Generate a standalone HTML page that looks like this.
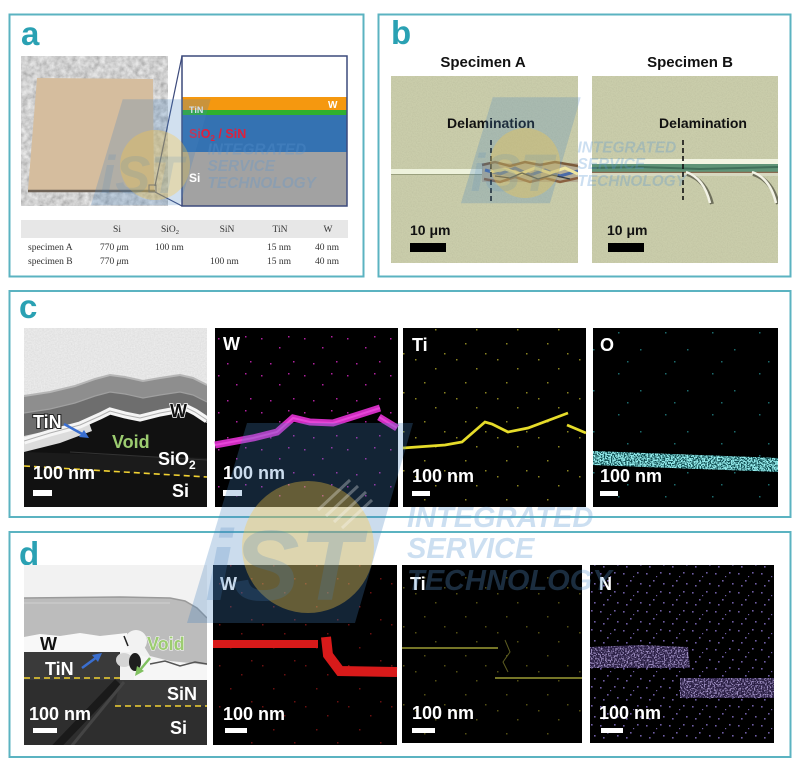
<!DOCTYPE html>
<html><head><meta charset="utf-8">
<style>
html,body{margin:0;padding:0;background:#fff;}
svg{display:block;}
text{font-family:"Liberation Sans",Arial,sans-serif;}
.lbl{font-weight:bold;font-size:33px;fill:#2aa1b3;}
.t{font-weight:bold;fill:#fff;font-size:18px;}
.ser{font-family:"Liberation Serif",serif;font-size:9.5px;fill:#333;}
</style></head><body>
<svg width="800" height="770" viewBox="0 0 800 770" xmlns="http://www.w3.org/2000/svg">
<defs>
  <filter id="fPhoto" x="0" y="0" width="100%" height="100%">
    <feTurbulence type="fractalNoise" baseFrequency="0.18" numOctaves="3" seed="4"/>
    <feColorMatrix type="matrix" values="0.6 0 0 0 0.33  0.6 0 0 0 0.33  0.6 0 0 0 0.33  0 0 0 0 1"/>
  </filter>
  <filter id="fTEM" x="0" y="0" width="100%" height="100%">
    <feTurbulence type="fractalNoise" baseFrequency="0.7" numOctaves="2" seed="11"/>
    <feColorMatrix type="matrix" values="0.18 0 0 0 0.70  0.18 0 0 0 0.70  0.18 0 0 0 0.70  0 0 0 0 1"/>
  </filter>
  <filter id="fGrain" x="0" y="0" width="100%" height="100%">
    <feTurbulence type="fractalNoise" baseFrequency="0.8" numOctaves="2" seed="21"/>
    <feColorMatrix type="matrix" values="0 0 0 0 0  0 0 0 0 0  0 0 0 0 0  1.2 0 0 0 -0.45"/>
  </filter>
  <filter id="fDotPD" x="0" y="0" width="100%" height="100%">
    <feTurbulence type="fractalNoise" baseFrequency="0.7" numOctaves="1" seed="19"/>
    <feColorMatrix type="matrix" values="0 0 0 0 0.62  0 0 0 0 0.5  0 0 0 0 0.92  8 0 0 0 -3.9"/>
  </filter>
  <filter id="fDotCD" x="0" y="0" width="100%" height="100%">
    <feTurbulence type="fractalNoise" baseFrequency="0.7" numOctaves="1" seed="29"/>
    <feColorMatrix type="matrix" values="0 0 0 0 0.3  0 0 0 0 0.85  0 0 0 0 0.85  8 0 0 0 -3.4"/>
  </filter>
  <pattern id="pM" width="43" height="37" patternUnits="userSpaceOnUse">
    <g fill="#b0209e"><rect x="3" y="5" width="1.5" height="1.5"/><rect x="21" y="14" width="1.5" height="1.5"/><rect x="35" y="28" width="1.5" height="1.5"/><rect x="12" y="30" width="1.5" height="1.5"/><rect x="30" y="3" width="1.5" height="1.5"/></g>
  </pattern>
  <pattern id="pY" width="41" height="39" patternUnits="userSpaceOnUse">
    <g fill="#8a8420"><rect x="5" y="8" width="1.5" height="1.5"/><rect x="25" y="17" width="1.5" height="1.5"/><rect x="14" y="31" width="1.5" height="1.5"/><rect x="34" y="2" width="1.5" height="1.5"/></g>
  </pattern>
  <pattern id="pC" width="47" height="41" patternUnits="userSpaceOnUse">
    <g fill="#1c6a6c"><rect x="7" y="4" width="1.5" height="1.5"/><rect x="29" y="21" width="1.5" height="1.5"/><rect x="16" y="33" width="1.5" height="1.5"/></g>
  </pattern>
  <pattern id="pR" width="43" height="41" patternUnits="userSpaceOnUse">
    <g fill="#6a1010"><rect x="4" y="9" width="1.5" height="1.5"/><rect x="26" y="18" width="1.5" height="1.5"/><rect x="15" y="32" width="1.5" height="1.5"/><rect x="36" y="4" width="1.5" height="1.5"/></g>
  </pattern>
  <pattern id="pP" width="23" height="19" patternUnits="userSpaceOnUse">
    <g fill="#6e5ca4"><rect x="2" y="3" width="1.6" height="1.6"/><rect x="9" y="10" width="1.6" height="1.6"/><rect x="16" y="2" width="1.6" height="1.6"/><rect x="19" y="13" width="1.6" height="1.6"/><rect x="5" y="15" width="1.6" height="1.6"/><rect x="12" y="6" width="1.2" height="1.2"/></g>
  </pattern>
  <clipPath id="cTa"><rect x="24" y="328" width="183" height="179"/></clipPath>
  <clipPath id="cTd"><rect x="24" y="565" width="183" height="180"/></clipPath>
  <clipPath id="cBA"><rect x="391" y="76" width="187" height="187"/></clipPath>
  <clipPath id="cBB"><rect x="592" y="76" width="186" height="187"/></clipPath>
  <clipPath id="cO"><polygon points="593,451 778,458 778,472 593,465"/></clipPath>
  <clipPath id="cN"><polygon points="590,647 640,645 688,647 690,668 590,668"/><polygon points="680,678 774,678 774,698 680,698"/></clipPath>
</defs>

<rect width="800" height="770" fill="#fff"/>

<!-- Panel frames -->
<rect x="9.5" y="14.5" width="354" height="262" fill="none" stroke="#5bb3c1" stroke-width="2"/>
<rect x="378.5" y="14.5" width="412" height="262" fill="none" stroke="#5bb3c1" stroke-width="2"/>
<rect x="9.5" y="291" width="781" height="226" fill="none" stroke="#5bb3c1" stroke-width="2"/>
<rect x="9.5" y="532" width="781" height="225" fill="none" stroke="#5bb3c1" stroke-width="2"/>

<text x="21" y="45" class="lbl">a</text>
<text x="391" y="44" class="lbl">b</text>
<text x="19" y="318" class="lbl">c</text>
<text x="19" y="565" class="lbl">d</text>

<!-- ===== Panel a ===== -->
<rect x="21" y="56" width="147" height="150" filter="url(#fPhoto)"/>
<polygon points="37,78 153,79 154,190 28,190" fill="#d5bd9e"/>
<line x1="28" y1="191" x2="155" y2="191" stroke="#6e6256" stroke-width="2.5"/>
<rect x="149" y="185" width="7" height="7" fill="none" stroke="#3c4a7c" stroke-width="1"/>
<line x1="155" y1="186" x2="182" y2="56" stroke="#3c4a7c" stroke-width="1.2"/>
<line x1="155" y1="192" x2="182" y2="206" stroke="#3c4a7c" stroke-width="1.2"/>
<rect x="182" y="56" width="165" height="150" fill="#fff"/>
<rect x="182" y="97" width="165" height="14" fill="#f5980f"/>
<rect x="182" y="110" width="165" height="5" fill="#2fb02f"/>
<rect x="182" y="115" width="165" height="37" fill="#3472b2"/>
<rect x="182" y="152" width="165" height="54" fill="#a2a2a2"/>
<rect x="182" y="56" width="165" height="150" fill="none" stroke="#3c4a7c" stroke-width="1.5"/>
<text x="189" y="113" font-size="9" font-weight="bold" fill="#fff">TiN</text>
<text x="328" y="108" font-size="10" font-weight="bold" fill="#fff">W</text>
<text x="189" y="138" font-size="12.5" font-weight="bold" fill="#e0203c">SiO<tspan dy="3" font-size="8">2</tspan><tspan dy="-3"> / SiN</tspan></text>
<text x="189" y="182" font-size="12" font-weight="bold" fill="#fff">Si</text>

<rect x="21" y="220" width="327" height="18" fill="#e7e7e7"/>
<text class="ser" x="117" y="232" text-anchor="middle">Si</text>
<text class="ser" x="170" y="232" text-anchor="middle">SiO<tspan dy="2" font-size="6.5">2</tspan></text>
<text class="ser" x="227" y="232" text-anchor="middle">SiN</text>
<text class="ser" x="280" y="232" text-anchor="middle">TiN</text>
<text class="ser" x="328" y="232" text-anchor="middle">W</text>
<text class="ser" x="28" y="250">specimen A</text>
<text class="ser" x="100" y="250">770 <tspan font-style="italic">μ</tspan>m</text>
<text class="ser" x="155" y="250">100 nm</text>
<text class="ser" x="267" y="250">15 nm</text>
<text class="ser" x="315" y="250">40 nm</text>
<text class="ser" x="28" y="264">specimen B</text>
<text class="ser" x="100" y="264">770 <tspan font-style="italic">μ</tspan>m</text>
<text class="ser" x="210" y="264">100 nm</text>
<text class="ser" x="267" y="264">15 nm</text>
<text class="ser" x="315" y="264">40 nm</text>

<!-- ===== Panel b ===== -->
<text x="483" y="67" font-size="15" font-weight="bold" fill="#111" text-anchor="middle">Specimen A</text>
<text x="690" y="67" font-size="15" font-weight="bold" fill="#111" text-anchor="middle">Specimen B</text>
<g clip-path="url(#cBA)">
  <rect x="391" y="76" width="187" height="187" fill="#cacdab"/>
  <rect x="391" y="76" width="187" height="187" filter="url(#fGrain)" opacity="0.08"/>
  <rect x="391" y="169" width="97" height="5" fill="#eef2dc"/>
  <line x1="391" y1="174.5" x2="488" y2="174.5" stroke="#9aa07e" stroke-width="1"/>
  <rect x="482" y="163" width="96" height="19" fill="#b5ad95"/>
  <path d="M482,165 L495,162 L510,166 L525,162 L540,165 L555,162 L578,166" fill="none" stroke="#7a5a3a" stroke-width="2.5"/>
  <path d="M485,170 L500,174 L515,168 L530,175 L545,170 L560,176 L578,171" fill="none" stroke="#4a6aa8" stroke-width="3"/>
  <path d="M490,172 L505,169 L520,174 L535,168 L550,173 L565,168 L578,174" fill="none" stroke="#efe6a0" stroke-width="3"/>
  <path d="M484,179 L500,182 L515,177 L530,182 L545,178 L560,182 L578,178" fill="none" stroke="#8a6040" stroke-width="2.5"/>
  <path d="M495,176 L510,178 L522,173 L538,179 L552,175 L570,179" fill="none" stroke="#303840" stroke-width="1.3"/>
</g>
<line x1="491" y1="140" x2="491" y2="203" stroke="#111" stroke-width="1.6" stroke-dasharray="5,3"/>
<text x="491" y="128" font-size="14" font-weight="bold" fill="#111" text-anchor="middle">Delamination</text>
<text x="410" y="235" font-size="14" font-weight="bold" fill="#111">10 μm</text>
<rect x="410" y="243" width="36" height="9" fill="#000"/>

<g clip-path="url(#cBB)">
  <rect x="592" y="76" width="186" height="187" fill="#cacdab"/>
  <rect x="592" y="76" width="186" height="187" filter="url(#fGrain)" opacity="0.08"/>
  <rect x="592" y="159" width="186" height="5" fill="#f2f4e2"/>
  <rect x="592" y="164" width="186" height="8" fill="#5f9478"/>
  <path d="M592,168 L640,167 L700,169 L778,167" fill="none" stroke="#3f6f5a" stroke-width="2"/>
  <line x1="592" y1="172.5" x2="778" y2="172.5" stroke="#8a6a50" stroke-width="1.5"/>
  <rect x="592" y="173" width="186" height="3" fill="#d6d8c0"/>
  <path d="M687,174 Q706,180 712,204" fill="none" stroke="#6f705c" stroke-width="4"/>
  <path d="M686,172 Q704,178 710,203" fill="none" stroke="#f3f3e6" stroke-width="2.5"/>
  <path d="M753,174 Q772,180 778,204" fill="none" stroke="#6f705c" stroke-width="4"/>
  <path d="M752,172 Q770,178 776,203" fill="none" stroke="#f3f3e6" stroke-width="2.5"/>
</g>
<line x1="683" y1="140" x2="683" y2="200" stroke="#111" stroke-width="1.6" stroke-dasharray="5,3"/>
<text x="703" y="128" font-size="14" font-weight="bold" fill="#111" text-anchor="middle">Delamination</text>
<text x="607" y="235" font-size="14" font-weight="bold" fill="#111">10 μm</text>
<rect x="608" y="243" width="36" height="9" fill="#000"/>

<!-- ===== Panel c ===== -->
<g clip-path="url(#cTa)">
  <rect x="24" y="328" width="183" height="179" filter="url(#fTEM)"/>
  <polygon points="24,396 50,392 75,386 95,379 110,375 125,377 143,381 160,378 180,375 193,378 207,385 207,422 195,413 187,409 160,414 140,418 125,416 110,412 100,416 80,425 50,433 24,441" fill="#8e8e8e"/>
  <path d="M24,396 L50,392 L75,386 L95,379 L110,375 L125,377 L143,381 L160,378 L180,375 L193,378 L207,385" fill="none" stroke="#b6b6b6" stroke-width="2"/>
  <polygon points="24,413 50,409 75,403 95,396 110,392 125,394 143,398 160,395 180,392 193,395 207,402 207,422 195,413 187,409 160,414 140,418 125,416 110,412 100,416 80,425 50,433 24,441" fill="#6e6e6e"/>
  <path d="M24,413 L50,409 L75,403 L95,396 L110,392 L125,394 L143,398 L160,395 L180,392 L193,395 L207,402" fill="none" stroke="#a0a0a0" stroke-width="1.2"/>
  <polygon points="24,444 50,436 80,428 100,419 110,414 125,418 140,421 160,416 187,411 195,415 207,423 207,507 24,507" fill="#111"/>
  <polygon points="24,452 207,458 207,477 24,466" fill="#1b1b1b"/>
  <polygon points="24,436 60,428 88,420 92,431 60,443 24,452" fill="#dcdcdc"/>
  <path d="M24,441 L50,433 L80,425 L100,416 L110,411 L125,415 L140,418 L160,413 L187,408 L195,412 L207,420" fill="none" stroke="#f5f5f5" stroke-width="7"/>
  <path d="M24,441 L50,433 L80,425 L100,416 L110,411 L125,415 L140,418 L160,413 L187,408 L195,412 L207,420" fill="none" stroke="#b0b0b0" stroke-width="1"/>
  <path d="M70,452 Q140,456 207,460" fill="none" stroke="#333" stroke-width="1"/>
  <line x1="24" y1="466" x2="207" y2="477" stroke="#f2d232" stroke-width="1.6" stroke-dasharray="6,4"/>
</g>
<line x1="64" y1="424" x2="84" y2="435" stroke="#3a6fd0" stroke-width="2.5"/>
<polygon points="89,438 79,437 84,430" fill="#3a6fd0"/>
<text x="33" y="428" class="t" stroke="#222" stroke-width="2" paint-order="stroke">TiN</text>
<text x="170" y="417" font-size="18" font-weight="bold" fill="#111" stroke="#fff" stroke-width="1.5" paint-order="stroke">W</text>
<text x="112" y="448" font-size="18" font-weight="bold" fill="#9ccc70">Void</text>
<text x="158" y="465" class="t">SiO<tspan dy="4" font-size="12">2</tspan></text>
<text x="33" y="479" class="t">100 nm</text>
<rect x="33" y="490" width="19" height="6" fill="#fff"/>
<text x="172" y="497" class="t">Si</text>

<!-- c: W map -->
<rect x="215" y="328" width="183" height="179" fill="#000"/>
<rect x="215" y="328" width="183" height="179" fill="url(#pM)"/>
<path d="M215,445 L253,438 L277,432 L293,418 L310,422 L333,423 L380,408" fill="none" stroke="#cf2cc0" stroke-width="7"/>
<path d="M379,417 L397,428" fill="none" stroke="#cf2cc0" stroke-width="7"/>
<path d="M215,445 L253,438 L277,432 L293,418 L310,422 L333,423 L380,408 M379,417 L397,428" fill="none" stroke="#ff60f0" stroke-width="2" opacity="0.5"/>
<text x="223" y="350" class="t">W</text>
<text x="223" y="479" class="t">100 nm</text>
<rect x="223" y="490" width="19" height="6" fill="#fff"/>

<!-- c: Ti map -->
<rect x="403" y="328" width="183" height="179" fill="#000"/>
<rect x="403" y="328" width="183" height="179" fill="url(#pY)"/>
<path d="M403,448 L445,445 L462,442 L485,422 L492,424 L508,432 L528,428 L568,413" fill="none" stroke="#e6dc2a" stroke-width="2.8"/>
<path d="M567,425 L586,433" fill="none" stroke="#e6dc2a" stroke-width="2.8"/>
<text x="412" y="351" class="t">Ti</text>
<text x="412" y="482" class="t">100 nm</text>
<rect x="412" y="491" width="18" height="5" fill="#fff"/>

<!-- c: O map -->
<rect x="593" y="328" width="185" height="179" fill="#000"/>
<rect x="593" y="328" width="185" height="179" fill="url(#pC)"/>
<g clip-path="url(#cO)">
  <rect x="593" y="448" width="185" height="28" fill="#0f4c50"/>
  <rect x="593" y="448" width="185" height="28" filter="url(#fDotCD)"/>
</g>
<text x="600" y="351" class="t">O</text>
<text x="600" y="482" class="t">100 nm</text>
<rect x="600" y="491" width="18" height="5" fill="#fff"/>

<!-- ===== Panel d ===== -->
<g clip-path="url(#cTd)">
  <rect x="24" y="565" width="183" height="180" fill="#f2f2f2"/>
  <polygon points="24,598 120,597 170,598 185,601 197,608 207,618 207,665 190,663 170,661 150,656 140,640 127,636 24,637" fill="#bcbcbc"/>
  <path d="M24,598 L120,597 L170,598 L185,601 L197,608 L207,618" fill="none" stroke="#9a9a9a" stroke-width="1.5"/>
  <path d="M24,603 L170,603" fill="none" stroke="#d0d0d0" stroke-width="1"/>
  <polygon points="24,637 40,634 60,636 80,633 100,636 127,633 130,652 24,652" fill="#f8f8f8"/>
  <rect x="24" y="652" width="96" height="28" fill="#3a3a3a"/>
  <polygon points="24,680 120,680 207,680 207,745 24,745" fill="#2e2e2e"/>
  <polygon points="120,680 207,680 207,706 115,706" fill="#383838"/>
  <line x1="118" y1="682" x2="55" y2="748" stroke="#1a1a1a" stroke-width="8"/>
  <line x1="124" y1="682" x2="70" y2="748" stroke="#444" stroke-width="3"/>
  <polygon points="136,654 150,658 170,662 190,664 207,665 207,680 134,680" fill="#f6f6f6"/>
  <ellipse cx="136" cy="641" rx="11" ry="11" fill="#f2f2f2"/>
  <ellipse cx="124" cy="660" rx="8" ry="7" fill="#d4d4d4"/>
  <ellipse cx="135" cy="662" rx="6" ry="9" fill="#1e1e1e"/>
  <path d="M150,664 L165,661 L180,666 L195,662 L207,664" fill="none" stroke="#555" stroke-width="1.5"/>
  <path d="M124,636 L128,646" fill="none" stroke="#222" stroke-width="1.5"/>
  <line x1="24" y1="678" x2="120" y2="678" stroke="#f2d232" stroke-width="1.6" stroke-dasharray="6,4"/>
  <line x1="115" y1="706" x2="207" y2="706" stroke="#f2d232" stroke-width="1.6" stroke-dasharray="6,4"/>
</g>
<text x="40" y="650" font-size="18" font-weight="bold" fill="#111">W</text>
<text x="45" y="675" class="t">TiN</text>
<line x1="82" y1="668" x2="97" y2="657" stroke="#3a6fd0" stroke-width="2.5"/>
<polygon points="102,653 98,662 92,655" fill="#3a6fd0"/>
<text x="147" y="650" font-size="18" font-weight="bold" fill="#9ccc70" stroke="#fff" stroke-width="1" paint-order="stroke">Void</text>
<line x1="150" y1="658" x2="140" y2="670" stroke="#80c060" stroke-width="2.5"/>
<polygon points="135,676 137,666 144,671" fill="#80c060"/>
<text x="167" y="700" class="t">SiN</text>
<text x="29" y="720" class="t">100 nm</text>
<rect x="33" y="728" width="24" height="5" fill="#fff"/>
<text x="170" y="734" class="t">Si</text>

<!-- d: W map -->
<rect x="213" y="565" width="184" height="180" fill="#000"/>
<rect x="213" y="565" width="184" height="180" fill="url(#pR)"/>
<path d="M213,644 L318,644" fill="none" stroke="#d81a1a" stroke-width="8"/>
<path d="M326,637 L328,655 L340,671 L397,672" fill="none" stroke="#d81a1a" stroke-width="10"/>
<text x="220" y="590" class="t">W</text>
<text x="223" y="720" class="t">100 nm</text>
<rect x="225" y="728" width="22" height="5" fill="#fff"/>

<!-- d: Ti map -->
<rect x="402" y="565" width="180" height="178" fill="#000"/>
<rect x="402" y="565" width="180" height="178" fill="url(#pY)" opacity="0.6"/>
<line x1="402" y1="648" x2="498" y2="648" stroke="#9c9c34" stroke-width="1.6"/>
<line x1="495" y1="678" x2="582" y2="678" stroke="#9c9c34" stroke-width="1.6"/>
<path d="M505,640 L510,652 L503,662 L508,672" fill="none" stroke="#5c5c20" stroke-width="1"/>
<text x="410" y="590" class="t">Ti</text>
<text x="412" y="719" class="t">100 nm</text>
<rect x="412" y="728" width="23" height="5" fill="#fff"/>

<!-- d: N map -->
<rect x="590" y="565" width="184" height="178" fill="#000"/>
<rect x="590" y="565" width="184" height="178" fill="url(#pP)"/>
<g clip-path="url(#cN)">
  <rect x="590" y="640" width="184" height="60" fill="#2a1f44"/>
  <rect x="590" y="640" width="184" height="60" filter="url(#fDotPD)" opacity="0.7"/>
</g>
<text x="599" y="590" class="t">N</text>
<text x="599" y="719" class="t">100 nm</text>
<rect x="601" y="728" width="22" height="5" fill="#fff"/>

<!-- ===== Watermarks ===== -->
<g>
  <polygon points="247,423 413,423 355,623 187,623" fill="rgb(70,130,190)" opacity="0.28"/>
  <circle cx="308" cy="547" r="66" fill="rgb(255,200,60)" opacity="0.35"/>
  <g stroke="#fff" stroke-width="3" opacity="0.3">
    <line x1="318" y1="510" x2="350" y2="480"/>
    <line x1="326" y1="516" x2="358" y2="486"/>
    <line x1="334" y1="522" x2="366" y2="492"/>
    <line x1="342" y1="528" x2="372" y2="500"/>
  </g>
  <text x="205" y="600" font-size="100" font-weight="bold" font-style="italic" fill="rgb(70,130,190)" opacity="0.22">iST</text>
  <g font-size="29" font-weight="bold" font-style="italic" fill="rgb(90,150,210)" opacity="0.3">
    <text x="407" y="527">INTEGRATED</text>
    <text x="407" y="558">SERVICE</text>
    <text x="407" y="590">TECHNOLOGY</text>
  </g>
</g>
<g transform="translate(-8.2,-124.9) scale(0.53)">
  <polygon points="247,423 413,423 355,623 187,623" fill="rgb(70,130,190)" opacity="0.25"/>
  <circle cx="308" cy="547" r="66" fill="rgb(255,200,60)" opacity="0.32"/>
  <text x="205" y="600" font-size="100" font-weight="bold" font-style="italic" fill="rgb(70,130,190)" opacity="0.15">iST</text>
  <g font-size="29" font-weight="bold" font-style="italic" fill="rgb(90,150,210)" opacity="0.3">
    <text x="407" y="527">INTEGRATED</text>
    <text x="407" y="558">SERVICE</text>
    <text x="407" y="590">TECHNOLOGY</text>
  </g>
</g>
<g transform="translate(361.8,-126.9) scale(0.53)">
  <polygon points="247,423 413,423 355,623 187,623" fill="rgb(70,130,190)" opacity="0.25"/>
  <circle cx="308" cy="547" r="66" fill="rgb(255,200,60)" opacity="0.32"/>
  <text x="205" y="600" font-size="100" font-weight="bold" font-style="italic" fill="rgb(70,130,190)" opacity="0.15">iST</text>
  <g font-size="29" font-weight="bold" font-style="italic" fill="rgb(90,150,210)" opacity="0.3">
    <text x="407" y="527">INTEGRATED</text>
    <text x="407" y="558">SERVICE</text>
    <text x="407" y="590">TECHNOLOGY</text>
  </g>
</g>
</svg>
</body></html>
